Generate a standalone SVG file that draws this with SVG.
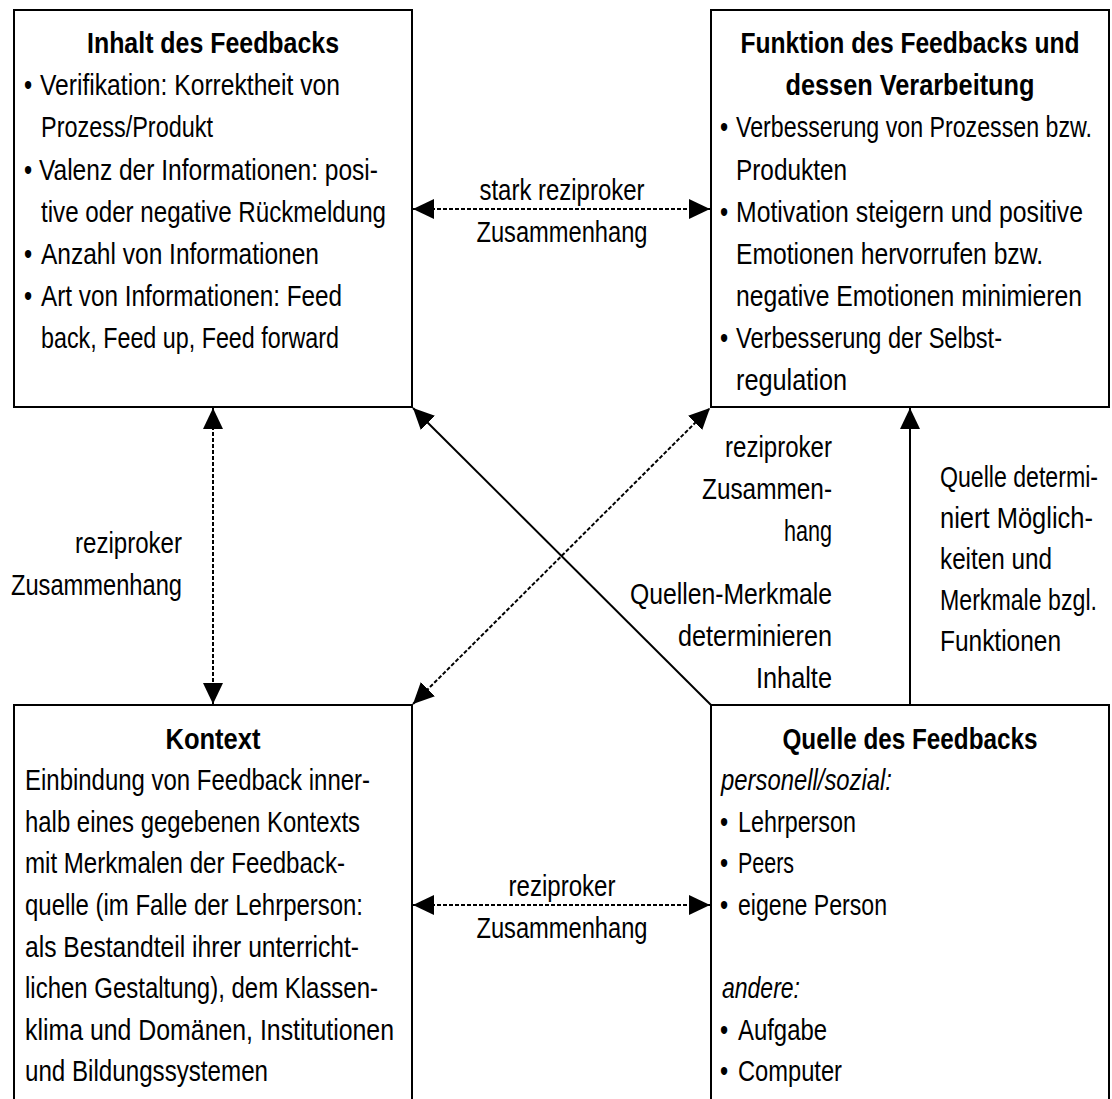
<svg xmlns="http://www.w3.org/2000/svg" width="1112" height="1099" viewBox="0 0 1112 1099">
<style>
text{font-family:"Liberation Sans",Arial,sans-serif;font-size:29px;fill:#000}
.b{font-weight:bold}
.i{font-style:italic}
.m{text-anchor:middle}
.e{text-anchor:end}
.box{fill:#fff;stroke:#000;stroke-width:2}
.c{stroke:#000;stroke-width:2;fill:none}
.d{stroke-dasharray:4 2}
</style>
<defs>
<marker id="ah" markerUnits="userSpaceOnUse" markerWidth="22" markerHeight="22" refX="21" refY="10" orient="auto-start-reverse" viewBox="0 0 22 22">
<path d="M0,0 L21,10 L0,20 Z" fill="#000"/>
</marker>
</defs>
<rect width="1112" height="1099" fill="#fff"/>

<g id="inhalt">
<rect class="box" x="14" y="10" width="398" height="397"/>
<g transform="scale(0.8 1)">
<text class="b m" x="266.25" y="53" textLength="315" lengthAdjust="spacingAndGlyphs">Inhalt des Feedbacks</text>
<text x="30" y="95">•</text><text x="50" y="95" textLength="375" lengthAdjust="spacingAndGlyphs">Verifikation: Korrektheit von</text>
<text x="51.25" y="137" textLength="215" lengthAdjust="spacingAndGlyphs">Prozess/Produkt</text>
<text x="30" y="180">•</text><text x="48.75" y="180" textLength="423.75" lengthAdjust="spacingAndGlyphs">Valenz der Informationen: posi-</text>
<text x="51.25" y="222" textLength="431.25" lengthAdjust="spacingAndGlyphs">tive oder negative Rückmeldung</text>
<text x="30" y="264">•</text><text x="51.25" y="264" textLength="347.5" lengthAdjust="spacingAndGlyphs">Anzahl von Informationen</text>
<text x="30" y="306">•</text><text x="51.25" y="306" textLength="376.25" lengthAdjust="spacingAndGlyphs">Art von Informationen: Feed</text>
<text x="51.25" y="348" textLength="372.5" lengthAdjust="spacingAndGlyphs">back, Feed up, Feed forward</text>
</g>
</g>

<g id="funktion">
<rect class="box" x="711" y="10" width="398" height="397"/>
<g transform="scale(0.8 1)">
<text class="b m" x="1137.5" y="53" textLength="423.75" lengthAdjust="spacingAndGlyphs">Funktion des Feedbacks und</text>
<text class="b m" x="1137.5" y="95" textLength="311.25" lengthAdjust="spacingAndGlyphs">dessen Verarbeitung</text>
<text x="900" y="137">•</text><text x="920" y="137" textLength="445" lengthAdjust="spacingAndGlyphs">Verbesserung von Prozessen bzw.</text>
<text x="920" y="180" textLength="138.75" lengthAdjust="spacingAndGlyphs">Produkten</text>
<text x="900" y="222">•</text><text x="920" y="222" textLength="433.75" lengthAdjust="spacingAndGlyphs">Motivation steigern und positive</text>
<text x="920" y="264" textLength="383.75" lengthAdjust="spacingAndGlyphs">Emotionen hervorrufen bzw.</text>
<text x="920" y="306" textLength="432.5" lengthAdjust="spacingAndGlyphs">negative Emotionen minimieren</text>
<text x="900" y="348">•</text><text x="920" y="348" textLength="332.5" lengthAdjust="spacingAndGlyphs">Verbesserung der Selbst-</text>
<text x="920" y="390" textLength="138.75" lengthAdjust="spacingAndGlyphs">regulation</text>
</g>
</g>

<g id="kontext">
<rect class="box" x="14" y="705" width="398" height="420"/>
<g transform="scale(0.8 1)">
<text class="b m" x="266.25" y="749" textLength="118.75" lengthAdjust="spacingAndGlyphs">Kontext</text>
<text x="31.25" y="790" textLength="431.25" lengthAdjust="spacingAndGlyphs">Einbindung von Feedback inner-</text>
<text x="31.25" y="832" textLength="418.75" lengthAdjust="spacingAndGlyphs">halb eines gegebenen Kontexts</text>
<text x="31.25" y="873" textLength="400" lengthAdjust="spacingAndGlyphs">mit Merkmalen der Feedback-</text>
<text x="31.25" y="915" textLength="422.5" lengthAdjust="spacingAndGlyphs">quelle (im Falle der Lehrperson:</text>
<text x="31.25" y="957" textLength="417.5" lengthAdjust="spacingAndGlyphs">als Bestandteil ihrer unterricht-</text>
<text x="31.25" y="998" textLength="441.25" lengthAdjust="spacingAndGlyphs">lichen Gestaltung), dem Klassen-</text>
<text x="31.25" y="1040" textLength="461.25" lengthAdjust="spacingAndGlyphs">klima und Domänen, Institutionen</text>
<text x="31.25" y="1081" textLength="303.75" lengthAdjust="spacingAndGlyphs">und Bildungssystemen</text>
</g>
</g>

<g id="quelle">
<rect class="box" x="711" y="705" width="398" height="420"/>
<g transform="scale(0.8 1)">
<text class="b m" x="1137.5" y="749" textLength="318.75" lengthAdjust="spacingAndGlyphs">Quelle des Feedbacks</text>
<text class="i" x="901.25" y="790" textLength="213.75" lengthAdjust="spacingAndGlyphs">personell/sozial:</text>
<text x="900" y="832">•</text><text x="922.5" y="832" textLength="147.5" lengthAdjust="spacingAndGlyphs">Lehrperson</text>
<text x="900" y="873">•</text><text x="922.5" y="873" textLength="70" lengthAdjust="spacingAndGlyphs">Peers</text>
<text x="900" y="915">•</text><text x="922.5" y="915" textLength="186.25" lengthAdjust="spacingAndGlyphs">eigene Person</text>
<text class="i" x="902.5" y="998" textLength="97.5" lengthAdjust="spacingAndGlyphs">andere:</text>
<text x="900" y="1040">•</text><text x="922.5" y="1040" textLength="111.25" lengthAdjust="spacingAndGlyphs">Aufgabe</text>
<text x="900" y="1081">•</text><text x="922.5" y="1081" textLength="130" lengthAdjust="spacingAndGlyphs">Computer</text>
</g>
</g>

<g id="connectors">
<line class="c d" x1="413" y1="209" x2="710" y2="209" marker-start="url(#ah)" marker-end="url(#ah)"/>
<line class="c d" x1="413" y1="905" x2="710" y2="905" marker-start="url(#ah)" marker-end="url(#ah)"/>
<line class="c d" x1="213" y1="408" x2="213" y2="704" marker-start="url(#ah)" marker-end="url(#ah)"/>
<line class="c d" x1="413" y1="704" x2="710" y2="408" marker-start="url(#ah)" marker-end="url(#ah)"/>
<line class="c" x1="711" y1="705" x2="413" y2="408" marker-end="url(#ah)"/>
<line class="c" x1="910" y1="705" x2="910" y2="408" marker-end="url(#ah)"/>
</g>

<g id="labels" transform="scale(0.8 1)">
<text class="m" x="702.5" y="200" textLength="206.25" lengthAdjust="spacingAndGlyphs">stark reziproker</text>
<text class="m" x="702.5" y="242" textLength="213.75" lengthAdjust="spacingAndGlyphs">Zusammenhang</text>
<text class="m" x="702.5" y="896" textLength="133.75" lengthAdjust="spacingAndGlyphs">reziproker</text>
<text class="m" x="702.5" y="938" textLength="213.75" lengthAdjust="spacingAndGlyphs">Zusammenhang</text>
<text class="e" x="227.5" y="553" textLength="133.75" lengthAdjust="spacingAndGlyphs">reziproker</text>
<text class="e" x="227.5" y="595" textLength="213.75" lengthAdjust="spacingAndGlyphs">Zusammenhang</text>
<text class="e" x="1040" y="457" textLength="133.75" lengthAdjust="spacingAndGlyphs">reziproker</text>
<text class="e" x="1040" y="499" textLength="162.5" lengthAdjust="spacingAndGlyphs">Zusammen-</text>
<text class="e" x="1040" y="541" textLength="60" lengthAdjust="spacingAndGlyphs">hang</text>
<text class="e" x="1040" y="604" textLength="252.5" lengthAdjust="spacingAndGlyphs">Quellen-Merkmale</text>
<text class="e" x="1040" y="646" textLength="192.5" lengthAdjust="spacingAndGlyphs">determinieren</text>
<text class="e" x="1040" y="688" textLength="95" lengthAdjust="spacingAndGlyphs">Inhalte</text>
<text x="1175" y="487" textLength="197.5" lengthAdjust="spacingAndGlyphs">Quelle determi-</text>
<text x="1175" y="528" textLength="191.25" lengthAdjust="spacingAndGlyphs">niert Möglich-</text>
<text x="1175" y="569" textLength="140" lengthAdjust="spacingAndGlyphs">keiten und</text>
<text x="1175" y="610" textLength="196.25" lengthAdjust="spacingAndGlyphs">Merkmale bzgl.</text>
<text x="1175" y="651" textLength="151.25" lengthAdjust="spacingAndGlyphs">Funktionen</text>
</g>
</svg>
